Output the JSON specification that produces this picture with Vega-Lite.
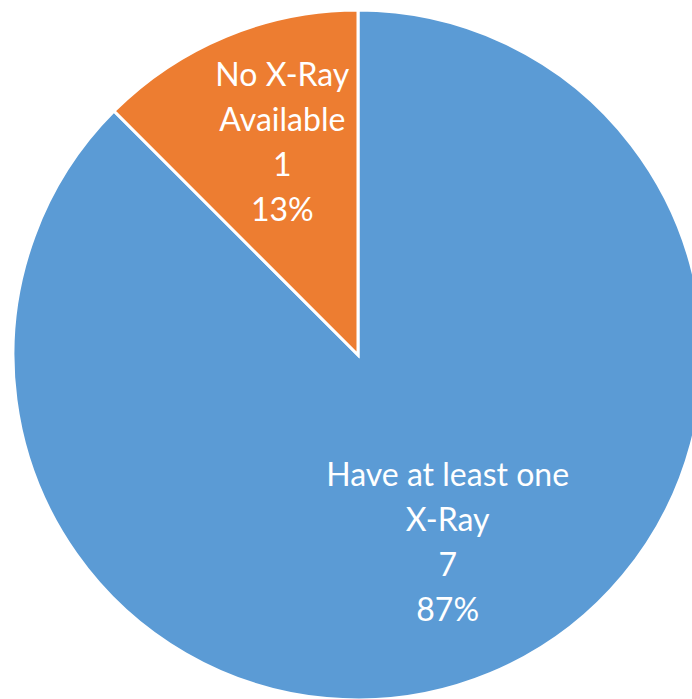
{
  "$schema": "https://vega.github.io/schema/vega-lite/v6.json",
  "width": 668,
  "height": 686,
  "autosize": "none",
  "padding": {"left": 24, "top": 12, "right": 0, "bottom": 1},
  "background": "white",
  "view": {"stroke": null},
  "data": {"values": [
    {"category": "Have at least one X-Ray", "count": 7, "ord": 1, "label": "Have at least one\nX-Ray\n7\n87%"},
    {"category": "No X-Ray Available", "count": 1, "ord": 2, "label": "No X-Ray\nAvailable\n1\n13%"}
  ]},
  "encoding": {
    "theta": {"field": "count", "type": "quantitative", "stack": true},
    "order": {"field": "ord", "type": "quantitative"}
  },
  "layer": [
    {
      "mark": {"type": "arc", "outerRadius": 345, "stroke": "white", "strokeWidth": 3},
      "encoding": {
        "color": {"field": "category", "type": "nominal", "legend": null,
          "scale": {"domain": ["Have at least one X-Ray", "No X-Ray Available"], "range": ["#5B9BD5", "#ED7D31"]}}
      }
    },
    {
      "mark": {"type": "text", "radius": 216, "fontSize": 32, "font": "Lato", "fill": "white", "lineBreak": "\n", "lineHeight": 45, "baseline": "middle", "align": "center", "dy": -79, "dx": 7},
      "encoding": {"text": {"field": "label", "type": "nominal"}}
    }
  ]
}
